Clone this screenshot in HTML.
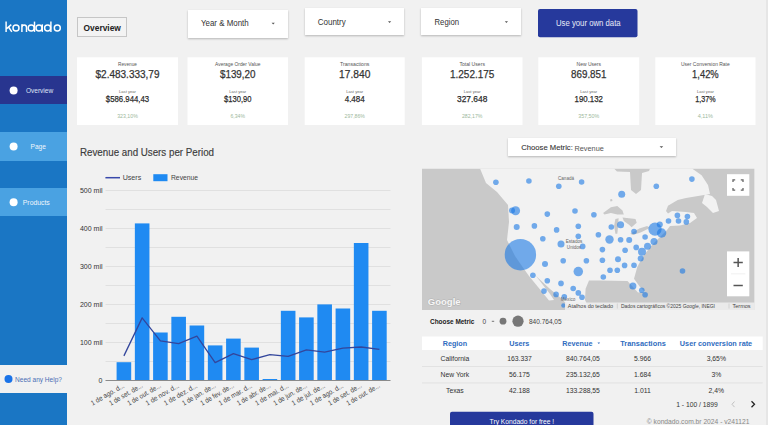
<!DOCTYPE html>
<html><head><meta charset="utf-8">
<style>
*{margin:0;padding:0;box-sizing:border-box}
html,body{width:768px;height:425px;overflow:hidden;background:#f1f1f1;font-family:"Liberation Sans",sans-serif;color:#333}
svg text{font-family:"Liberation Sans",sans-serif}
.a{position:absolute}
.dd{background:#fff;box-shadow:0 1px 2px rgba(0,0,0,.25)}
</style></head><body>
<div class="a" style="left:0;top:0;width:67px;height:425px;background:#1a76c4"></div>
<div class="a" style="left:0;top:76px;width:67px;height:28.3px;background:#28358f"></div>
<div class="a" style="left:0;top:132px;width:67px;height:29px;background:#4aa2e2"></div>
<div class="a" style="left:0;top:188px;width:67px;height:28.3px;background:#4aa2e2"></div>
<div class="a" style="left:0;top:364.5px;width:67px;height:28.5px;background:#f1f1f1"></div>
<div class="a" style="left:766px;top:0;width:2px;height:425px;background:#e6e6e6"></div>
<div class="a dd" style="left:188px;top:10px;width:100px;height:27.5px"></div>
<div class="a dd" style="left:305px;top:8px;width:99px;height:27.2px"></div>
<div class="a dd" style="left:421px;top:8px;width:100px;height:27.2px"></div>
<svg class="a" style="left:0;top:0" width="768" height="425" viewBox="0 0 768 425">
<g fill="none" stroke="#fff" stroke-width="1.45">
<path d="M6.1,21.6 V31.9 M6.6,28.6 L11.3,24.6 M8.6,27 L11.8,31.9"/>
<circle cx="16" cy="28.05" r="3"/>
<path d="M21.9,24.3 V31.9 M21.9,27.4 A2.3,2.5 0 0 1 26.5,27.4 V31.9"/>
<circle cx="31.2" cy="28.05" r="3"/><path d="M34.5,21.6 V31.9"/>
<circle cx="39" cy="28.05" r="3"/><path d="M42.3,24.3 V31.9"/>
<circle cx="47.6" cy="28.05" r="3"/><path d="M50.9,21.6 V31.9"/>
<circle cx="57.3" cy="28.05" r="3"/>
</g>
<circle cx="13.6" cy="90.5" r="4" fill="#fff"/>
<text x="25.9" y="93" font-size="6.9" fill="#dfe3f5" textLength="27.3" lengthAdjust="spacingAndGlyphs">Overview</text>
<circle cx="13.6" cy="146.5" r="4" fill="#fff"/>
<text x="30.6" y="149" font-size="6.9" fill="#f0f6fc" textLength="15.3" lengthAdjust="spacingAndGlyphs">Page</text>
<circle cx="13.6" cy="202.3" r="4" fill="#fff"/>
<text x="22.8" y="204.8" font-size="6.9" fill="#f0f6fc" textLength="27" lengthAdjust="spacingAndGlyphs">Products</text>
<circle cx="8.5" cy="379" r="4" fill="#1a73e8"/>
<text x="15" y="381.5" font-size="6.9" fill="#4a6fb5" textLength="47" lengthAdjust="spacingAndGlyphs">Need any Help?</text>
<rect x="77.5" y="17.5" width="49" height="19" fill="#f3f3f3" stroke="#c6c6c6" stroke-width="1"/>
<text x="83.6" y="31" font-size="9.7" font-weight="bold" fill="#222" textLength="37.2" lengthAdjust="spacingAndGlyphs">Overview</text>
<text x="201" y="25.8" font-size="8.8" fill="#333" textLength="47.7" lengthAdjust="spacingAndGlyphs">Year &amp; Month</text>
<path d="M271.6,22.8 h3.2 l-1.6,1.6z" fill="#555"/>
<text x="317.7" y="25" font-size="8.8" fill="#333" textLength="28.1" lengthAdjust="spacingAndGlyphs">Country</text>
<path d="M388,21.3 h3.2 l-1.6,1.6z" fill="#555"/>
<text x="434.5" y="25" font-size="8.8" fill="#333" textLength="24.5" lengthAdjust="spacingAndGlyphs">Region</text>
<path d="M504.8,21.3 h3.2 l-1.6,1.6z" fill="#555"/>
<rect x="538" y="9" width="99.5" height="28.2" rx="2" fill="#26399c"/>
<text x="556" y="25.9" font-size="9.2" fill="#e8ebf7" textLength="64.6" lengthAdjust="spacingAndGlyphs">Use your own data</text>
</svg>
<svg class="a" style="left:0;top:0" width="768" height="425" viewBox="0 0 768 425">
<rect x="77" y="57.3" width="101.0" height="67.7" fill="#fff"/>
<text x="127.50" y="66" text-anchor="middle" font-size="5.2" fill="#555" textLength="18.8" lengthAdjust="spacingAndGlyphs">Revenue</text>
<text x="127.50" y="77.8" text-anchor="middle" font-size="11.1" fill="#333" stroke="#333" stroke-width="0.25" textLength="64" lengthAdjust="spacingAndGlyphs">$2.483.333,79</text>
<text x="127.50" y="92.9" text-anchor="middle" font-size="4.1" fill="#666" textLength="16.9" lengthAdjust="spacingAndGlyphs">Last year</text>
<text x="127.50" y="102.3" text-anchor="middle" font-size="9.9" fill="#2a2a2a" stroke="#2a2a2a" stroke-width="0.25" textLength="43.3" lengthAdjust="spacingAndGlyphs">$586.944,43</text>
<text x="127.50" y="118" text-anchor="middle" font-size="5.4" fill="#9cb89c" textLength="20.7" lengthAdjust="spacingAndGlyphs">323,10%</text>
<rect x="187.5" y="57.3" width="100.5" height="67.7" fill="#fff"/>
<text x="237.75" y="66" text-anchor="middle" font-size="5.2" fill="#555" textLength="45.3" lengthAdjust="spacingAndGlyphs">Average Order Value</text>
<text x="237.75" y="77.8" text-anchor="middle" font-size="11.1" fill="#333" stroke="#333" stroke-width="0.25" textLength="35.6" lengthAdjust="spacingAndGlyphs">$139,20</text>
<text x="237.75" y="92.9" text-anchor="middle" font-size="4.1" fill="#666" textLength="16.9" lengthAdjust="spacingAndGlyphs">Last year</text>
<text x="237.75" y="102.3" text-anchor="middle" font-size="9.9" fill="#2a2a2a" stroke="#2a2a2a" stroke-width="0.25" textLength="27.5" lengthAdjust="spacingAndGlyphs">$130,90</text>
<text x="237.75" y="118" text-anchor="middle" font-size="5.4" fill="#9cb89c" textLength="14.5" lengthAdjust="spacingAndGlyphs">6,34%</text>
<rect x="304.7" y="57.3" width="100.0" height="67.7" fill="#fff"/>
<text x="354.70" y="66" text-anchor="middle" font-size="5.2" fill="#555" textLength="29.4" lengthAdjust="spacingAndGlyphs">Transactions</text>
<text x="354.70" y="77.8" text-anchor="middle" font-size="11.1" fill="#333" stroke="#333" stroke-width="0.25" textLength="31.3" lengthAdjust="spacingAndGlyphs">17.840</text>
<text x="354.70" y="92.9" text-anchor="middle" font-size="4.1" fill="#666" textLength="16.9" lengthAdjust="spacingAndGlyphs">Last year</text>
<text x="354.70" y="102.3" text-anchor="middle" font-size="9.9" fill="#2a2a2a" stroke="#2a2a2a" stroke-width="0.25" textLength="20" lengthAdjust="spacingAndGlyphs">4.484</text>
<text x="354.70" y="118" text-anchor="middle" font-size="5.4" fill="#9cb89c" textLength="20.3" lengthAdjust="spacingAndGlyphs">297,86%</text>
<rect x="421.9" y="57.3" width="100.6" height="67.7" fill="#fff"/>
<text x="472.20" y="66" text-anchor="middle" font-size="5.2" fill="#555" textLength="25.6" lengthAdjust="spacingAndGlyphs">Total Users</text>
<text x="472.20" y="77.8" text-anchor="middle" font-size="11.1" fill="#333" stroke="#333" stroke-width="0.25" textLength="44.4" lengthAdjust="spacingAndGlyphs">1.252.175</text>
<text x="472.20" y="92.9" text-anchor="middle" font-size="4.1" fill="#666" textLength="16.9" lengthAdjust="spacingAndGlyphs">Last year</text>
<text x="472.20" y="102.3" text-anchor="middle" font-size="9.9" fill="#2a2a2a" stroke="#2a2a2a" stroke-width="0.25" textLength="30.3" lengthAdjust="spacingAndGlyphs">327.648</text>
<text x="472.20" y="118" text-anchor="middle" font-size="5.4" fill="#9cb89c" textLength="20.6" lengthAdjust="spacingAndGlyphs">282,17%</text>
<rect x="538.3" y="57.3" width="100.9" height="67.7" fill="#fff"/>
<text x="588.75" y="66" text-anchor="middle" font-size="5.2" fill="#555" textLength="24.4" lengthAdjust="spacingAndGlyphs">New Users</text>
<text x="588.75" y="77.8" text-anchor="middle" font-size="11.1" fill="#333" stroke="#333" stroke-width="0.25" textLength="35.4" lengthAdjust="spacingAndGlyphs">869.851</text>
<text x="588.75" y="92.9" text-anchor="middle" font-size="4.1" fill="#666" textLength="16.9" lengthAdjust="spacingAndGlyphs">Last year</text>
<text x="588.75" y="102.3" text-anchor="middle" font-size="9.9" fill="#2a2a2a" stroke="#2a2a2a" stroke-width="0.25" textLength="28.4" lengthAdjust="spacingAndGlyphs">190.132</text>
<text x="588.75" y="118" text-anchor="middle" font-size="5.4" fill="#9cb89c" textLength="21.1" lengthAdjust="spacingAndGlyphs">357,50%</text>
<rect x="655.3" y="57.3" width="100.2" height="67.7" fill="#fff"/>
<text x="705.40" y="66" text-anchor="middle" font-size="5.2" fill="#555" textLength="48.7" lengthAdjust="spacingAndGlyphs">User Conversion Rate</text>
<text x="705.40" y="77.8" text-anchor="middle" font-size="11.1" fill="#333" stroke="#333" stroke-width="0.25" textLength="26.6" lengthAdjust="spacingAndGlyphs">1,42%</text>
<text x="705.40" y="92.9" text-anchor="middle" font-size="4.1" fill="#666" textLength="16.9" lengthAdjust="spacingAndGlyphs">Last year</text>
<text x="705.40" y="102.3" text-anchor="middle" font-size="9.9" fill="#2a2a2a" stroke="#2a2a2a" stroke-width="0.25" textLength="20.3" lengthAdjust="spacingAndGlyphs">1,37%</text>
<text x="705.40" y="118" text-anchor="middle" font-size="5.4" fill="#9cb89c" textLength="15.3" lengthAdjust="spacingAndGlyphs">4,11%</text>
</svg>
<svg class="a" style="left:0;top:0" width="768" height="425" viewBox="0 0 768 425">
<line x1="105.5" x2="390.5" y1="361.5" y2="361.5" stroke="#e0e0e0" stroke-width="1"/>
<line x1="105.5" x2="390.5" y1="342.5" y2="342.5" stroke="#e0e0e0" stroke-width="1"/>
<line x1="105.5" x2="390.5" y1="323.5" y2="323.5" stroke="#e0e0e0" stroke-width="1"/>
<line x1="105.5" x2="390.5" y1="304.5" y2="304.5" stroke="#e0e0e0" stroke-width="1"/>
<line x1="105.5" x2="390.5" y1="285.5" y2="285.5" stroke="#e0e0e0" stroke-width="1"/>
<line x1="105.5" x2="390.5" y1="266.5" y2="266.5" stroke="#e0e0e0" stroke-width="1"/>
<line x1="105.5" x2="390.5" y1="247.5" y2="247.5" stroke="#e0e0e0" stroke-width="1"/>
<line x1="105.5" x2="390.5" y1="228.5" y2="228.5" stroke="#e0e0e0" stroke-width="1"/>
<line x1="105.5" x2="390.5" y1="209.5" y2="209.5" stroke="#e0e0e0" stroke-width="1"/>
<line x1="105.5" x2="390.5" y1="190.5" y2="190.5" stroke="#e0e0e0" stroke-width="1"/>
<text x="102.5" y="382.9" text-anchor="end" font-size="7" fill="#333">0</text>
<text x="102.5" y="344.9" text-anchor="end" font-size="7" fill="#333">100 mil</text>
<text x="102.5" y="306.9" text-anchor="end" font-size="7" fill="#333">200 mil</text>
<text x="102.5" y="268.9" text-anchor="end" font-size="7" fill="#333">300 mil</text>
<text x="102.5" y="230.9" text-anchor="end" font-size="7" fill="#333">400 mil</text>
<text x="102.5" y="192.9" text-anchor="end" font-size="7" fill="#333">500 mil</text>
<rect x="116.60" y="362.2" width="14.6" height="18.30" fill="#1f8af2"/>
<rect x="134.85" y="223.4" width="14.6" height="157.10" fill="#1f8af2"/>
<rect x="153.10" y="332.5" width="14.6" height="48.00" fill="#1f8af2"/>
<rect x="171.35" y="316.8" width="14.6" height="63.70" fill="#1f8af2"/>
<rect x="189.60" y="325.5" width="14.6" height="55.00" fill="#1f8af2"/>
<rect x="207.85" y="345.4" width="14.6" height="35.10" fill="#1f8af2"/>
<rect x="226.10" y="338.6" width="14.6" height="41.90" fill="#1f8af2"/>
<rect x="244.35" y="347.6" width="14.6" height="32.90" fill="#1f8af2"/>
<rect x="262.60" y="379.0" width="14.6" height="1.50" fill="#1f8af2"/>
<rect x="280.85" y="310.8" width="14.6" height="69.70" fill="#1f8af2"/>
<rect x="299.10" y="317.4" width="14.6" height="63.10" fill="#1f8af2"/>
<rect x="317.35" y="304.4" width="14.6" height="76.10" fill="#1f8af2"/>
<rect x="335.60" y="308.5" width="14.6" height="72.00" fill="#1f8af2"/>
<rect x="353.85" y="243.0" width="14.6" height="137.50" fill="#1f8af2"/>
<rect x="372.10" y="310.8" width="14.6" height="69.70" fill="#1f8af2"/>
<line x1="105.5" x2="390.5" y1="380.5" y2="380.5" stroke="#8a8a8a" stroke-width="1.2"/>
<polyline points="123.90,355.9 142.15,317.9 160.40,340.9 178.65,343.6 196.90,336.2 215.15,362.6 233.40,353.7 251.65,359.7 269.90,354.6 288.15,356.4 306.40,349.9 324.65,352.2 342.90,348.2 361.15,347.0 379.40,349.3" fill="none" stroke="#33469c" stroke-width="1.3" stroke-linejoin="round"/>
<text transform="translate(124.90,387.0) rotate(-30)" text-anchor="end" font-size="7" fill="#444" textLength="37.5" lengthAdjust="spacingAndGlyphs">1 de ago. d...</text>
<text transform="translate(143.15,387.0) rotate(-30)" text-anchor="end" font-size="7" fill="#444" textLength="37.5" lengthAdjust="spacingAndGlyphs">1 de set. de...</text>
<text transform="translate(161.40,387.0) rotate(-30)" text-anchor="end" font-size="7" fill="#444" textLength="37.5" lengthAdjust="spacingAndGlyphs">1 de out. de...</text>
<text transform="translate(179.65,387.0) rotate(-30)" text-anchor="end" font-size="7" fill="#444" textLength="37.5" lengthAdjust="spacingAndGlyphs">1 de nov. d...</text>
<text transform="translate(197.90,387.0) rotate(-30)" text-anchor="end" font-size="7" fill="#444" textLength="37.5" lengthAdjust="spacingAndGlyphs">1 de dez. d...</text>
<text transform="translate(216.15,387.0) rotate(-30)" text-anchor="end" font-size="7" fill="#444" textLength="37.5" lengthAdjust="spacingAndGlyphs">1 de jan. de...</text>
<text transform="translate(234.40,387.0) rotate(-30)" text-anchor="end" font-size="7" fill="#444" textLength="37.5" lengthAdjust="spacingAndGlyphs">1 de fev. de...</text>
<text transform="translate(252.65,387.0) rotate(-30)" text-anchor="end" font-size="7" fill="#444" textLength="37.5" lengthAdjust="spacingAndGlyphs">1 de mar. d...</text>
<text transform="translate(270.90,387.0) rotate(-30)" text-anchor="end" font-size="7" fill="#444" textLength="37.5" lengthAdjust="spacingAndGlyphs">1 de abr. de...</text>
<text transform="translate(289.15,387.0) rotate(-30)" text-anchor="end" font-size="7" fill="#444" textLength="37.5" lengthAdjust="spacingAndGlyphs">1 de mai. d...</text>
<text transform="translate(307.40,387.0) rotate(-30)" text-anchor="end" font-size="7" fill="#444" textLength="37.5" lengthAdjust="spacingAndGlyphs">1 de jun. de...</text>
<text transform="translate(325.65,387.0) rotate(-30)" text-anchor="end" font-size="7" fill="#444" textLength="37.5" lengthAdjust="spacingAndGlyphs">1 de jul. de...</text>
<text transform="translate(343.90,387.0) rotate(-30)" text-anchor="end" font-size="7" fill="#444" textLength="37.5" lengthAdjust="spacingAndGlyphs">1 de ago. d...</text>
<text transform="translate(362.15,387.0) rotate(-30)" text-anchor="end" font-size="7" fill="#444" textLength="37.5" lengthAdjust="spacingAndGlyphs">1 de set. de...</text>
<text transform="translate(380.40,387.0) rotate(-30)" text-anchor="end" font-size="7" fill="#444" textLength="37.5" lengthAdjust="spacingAndGlyphs">1 de out. de...</text>
</svg>

<svg class="a" style="left:0;top:0" width="768" height="425" viewBox="0 0 768 425">
<text x="80" y="155.8" font-size="10" fill="#3c3c3c" stroke="#3c3c3c" stroke-width="0.15" textLength="134" lengthAdjust="spacingAndGlyphs">Revenue and Users per Period</text>
<line x1="105.4" x2="120" y1="177.7" y2="177.7" stroke="#3949ab" stroke-width="1.5"/>
<text x="122.7" y="180.4" font-size="7.1" fill="#444">Users</text>
<rect x="153.3" y="174.2" width="14.2" height="7" fill="#1f8af2"/>
<text x="171" y="180.4" font-size="6.75" fill="#444">Revenue</text>
</svg>
<div class="a dd" style="left:508px;top:138px;width:168px;height:18px"></div>
<svg class="a" style="left:0;top:0" width="768" height="425" viewBox="0 0 768 425">
<text x="521.3" y="150.3" font-size="7.8" fill="#333" stroke="#333" stroke-width="0.1" textLength="51.5" lengthAdjust="spacingAndGlyphs">Choose Metric:</text>
<text x="574.5" y="150.5" font-size="6.4" fill="#555" textLength="29.3" lengthAdjust="spacingAndGlyphs">Revenue</text>
<path d="M659.6,146.2 h3.6 l-1.8,1.8z" fill="#555"/>
</svg>
<svg class="a" style="left:0;top:0" width="768" height="425" viewBox="0 0 768 425">
<defs><clipPath id="mc"><rect x="422" y="168.5" width="332.6" height="141.5"/></clipPath></defs>
<g clip-path="url(#mc)">
<rect x="422.0" y="168.5" width="332.6" height="141.5" fill="#c9c9c9"/>
<polygon points="480,168.5 614,168.5 617,171.5 630,172 631,190 636,194 641,190 642,173 649,171 650,168.5 692,168.5 701.6,175.2 708,185 710,194 698,196 686,198 677.7,200 668,205.7 666,211 668,213.5 672,211 686,212 694,213 697,218 690,223 680,225.5 670,226 667,230 660,237 652,245 644,255 640,262 637.3,267 634,278.7 640,287 645,292 638,292.5 627.5,281 600,280.5 589,280.5 585.6,288.7 585,300 590,310 572,310 562,299 550,289 536,276 550,294 554,300 549,300.5 538,287 529,276 524,269 515,256 507,240 509,222 508,205 497,192 486,183" fill="#f2f2f2"/>
<polygon points="705,194 712,196 716,200 719,211 713,213 707,207 702,203" fill="#f2f2f2"/>
<polygon points="603.1,213.1 610.9,207.3 617.3,206 622.5,210.5 623.8,214.4 617.3,214.4 610.9,213.1 604.4,214.4" fill="#c9c9c9"/>
<polygon points="615.4,218.9 618.6,218.3 618,227.3 617.3,233.8 615.4,233.8 614.1,226" fill="#c9c9c9"/>
<polygon points="622.5,217.6 629,218.3 635.5,218.9 636.7,222.8 631.6,227.3 629,224.8 623.8,220.9" fill="#c9c9c9"/>
<polygon points="630.3,233.8 639.3,228.6 647.1,226 649.7,228 640.6,232.5 632.9,235.1" fill="#c9c9c9"/>
<polygon points="610,199.5 612,199 612.5,201 610.5,201.5" fill="#c9c9c9"/>
<circle cx="495.9" cy="182.3" r="2.8" fill="rgba(25,120,228,0.6)"/>
<circle cx="528.9" cy="181" r="2.8" fill="rgba(25,120,228,0.6)"/>
<circle cx="558.8" cy="186.2" r="2.8" fill="rgba(25,120,228,0.6)"/>
<circle cx="581.6" cy="182" r="2.8" fill="rgba(25,120,228,0.6)"/>
<circle cx="621.7" cy="194.3" r="3.5" fill="rgba(25,120,228,0.6)"/>
<circle cx="656.3" cy="186.3" r="2.8" fill="rgba(25,120,228,0.6)"/>
<circle cx="691.9" cy="179.1" r="2.8" fill="rgba(25,120,228,0.6)"/>
<circle cx="515.6" cy="210.8" r="4.5" fill="rgba(25,120,228,0.6)"/>
<circle cx="512" cy="210.5" r="3" fill="rgba(25,120,228,0.6)"/>
<circle cx="547.3" cy="214.1" r="2.8" fill="rgba(25,120,228,0.6)"/>
<circle cx="575" cy="211" r="2.8" fill="rgba(25,120,228,0.6)"/>
<circle cx="593.9" cy="214.8" r="2.8" fill="rgba(25,120,228,0.6)"/>
<circle cx="516.7" cy="227" r="3" fill="rgba(25,120,228,0.6)"/>
<circle cx="534.4" cy="225.9" r="2.8" fill="rgba(25,120,228,0.6)"/>
<circle cx="556.6" cy="229.9" r="2.8" fill="rgba(25,120,228,0.6)"/>
<circle cx="578.3" cy="226.3" r="2.8" fill="rgba(25,120,228,0.6)"/>
<circle cx="578.3" cy="236.3" r="2.8" fill="rgba(25,120,228,0.6)"/>
<circle cx="542.8" cy="238.8" r="2.8" fill="rgba(25,120,228,0.6)"/>
<circle cx="561" cy="244" r="3.5" fill="rgba(25,120,228,0.6)"/>
<circle cx="582.7" cy="246.4" r="2.8" fill="rgba(25,120,228,0.6)"/>
<circle cx="520.4" cy="254.7" r="15.7" fill="rgba(25,120,228,0.6)"/>
<circle cx="545" cy="264.1" r="3" fill="rgba(25,120,228,0.6)"/>
<circle cx="563.2" cy="260.8" r="2.8" fill="rgba(25,120,228,0.6)"/>
<circle cx="586.4" cy="260.8" r="2.8" fill="rgba(25,120,228,0.6)"/>
<circle cx="578.3" cy="271.6" r="4.75" fill="rgba(25,120,228,0.6)"/>
<circle cx="532.9" cy="275.2" r="2.8" fill="rgba(25,120,228,0.6)"/>
<circle cx="547.3" cy="280.7" r="2.8" fill="rgba(25,120,228,0.6)"/>
<circle cx="561" cy="283.4" r="2.8" fill="rgba(25,120,228,0.6)"/>
<circle cx="573.2" cy="288.5" r="2.8" fill="rgba(25,120,228,0.6)"/>
<circle cx="578.3" cy="292.9" r="2.8" fill="rgba(25,120,228,0.6)"/>
<circle cx="582" cy="297.3" r="2.8" fill="rgba(25,120,228,0.6)"/>
<circle cx="544" cy="291.1" r="2.8" fill="rgba(25,120,228,0.6)"/>
<circle cx="556.1" cy="294.4" r="2.8" fill="rgba(25,120,228,0.6)"/>
<circle cx="564.3" cy="296.7" r="2.8" fill="rgba(25,120,228,0.6)"/>
<circle cx="563.4" cy="305.5" r="2.2" fill="rgba(25,120,228,0.6)"/>
<circle cx="611.3" cy="227" r="2.8" fill="rgba(25,120,228,0.6)"/>
<circle cx="620.6" cy="224.8" r="3.5" fill="rgba(25,120,228,0.6)"/>
<circle cx="598.4" cy="234.8" r="2.8" fill="rgba(25,120,228,0.6)"/>
<circle cx="634" cy="231.5" r="2.8" fill="rgba(25,120,228,0.6)"/>
<circle cx="668.5" cy="221" r="2.8" fill="rgba(25,120,228,0.6)"/>
<circle cx="677.4" cy="215.4" r="2.8" fill="rgba(25,120,228,0.6)"/>
<circle cx="687.4" cy="216.5" r="2.8" fill="rgba(25,120,228,0.6)"/>
<circle cx="678.5" cy="221" r="2.8" fill="rgba(25,120,228,0.6)"/>
<circle cx="686.3" cy="221.9" r="2.8" fill="rgba(25,120,228,0.6)"/>
<circle cx="655" cy="229.2" r="6.6" fill="rgba(25,120,228,0.6)"/>
<circle cx="661.6" cy="233" r="4.7" fill="rgba(25,120,228,0.6)"/>
<circle cx="659.8" cy="224.5" r="3" fill="rgba(25,120,228,0.6)"/>
<circle cx="654" cy="241.5" r="3.5" fill="rgba(25,120,228,0.6)"/>
<circle cx="647.5" cy="246.2" r="3.5" fill="rgba(25,120,228,0.6)"/>
<circle cx="609.5" cy="239.5" r="4.2" fill="rgba(25,120,228,0.6)"/>
<circle cx="620.6" cy="239.8" r="2.8" fill="rgba(25,120,228,0.6)"/>
<circle cx="629.2" cy="240" r="3" fill="rgba(25,120,228,0.6)"/>
<circle cx="645.1" cy="237" r="2.8" fill="rgba(25,120,228,0.6)"/>
<circle cx="602.4" cy="249.6" r="2.8" fill="rgba(25,120,228,0.6)"/>
<circle cx="625.1" cy="250.2" r="2.8" fill="rgba(25,120,228,0.6)"/>
<circle cx="636.2" cy="247.4" r="2.8" fill="rgba(25,120,228,0.6)"/>
<circle cx="642" cy="251.8" r="4" fill="rgba(25,120,228,0.6)"/>
<circle cx="640.7" cy="258.5" r="3" fill="rgba(25,120,228,0.6)"/>
<circle cx="602.4" cy="260.3" r="2.8" fill="rgba(25,120,228,0.6)"/>
<circle cx="618" cy="259.2" r="3" fill="rgba(25,120,228,0.6)"/>
<circle cx="624.6" cy="265.4" r="2.8" fill="rgba(25,120,228,0.6)"/>
<circle cx="634" cy="265.2" r="2.8" fill="rgba(25,120,228,0.6)"/>
<circle cx="610" cy="270.3" r="2.8" fill="rgba(25,120,228,0.6)"/>
<circle cx="617.3" cy="270.3" r="2.8" fill="rgba(25,120,228,0.6)"/>
<circle cx="603.3" cy="277" r="2.8" fill="rgba(25,120,228,0.6)"/>
<circle cx="632.9" cy="285.9" r="3.5" fill="rgba(25,120,228,0.6)"/>
<circle cx="641.8" cy="290.3" r="2.8" fill="rgba(25,120,228,0.6)"/>
<circle cx="645.1" cy="294.8" r="2.8" fill="rgba(25,120,228,0.6)"/>
<circle cx="682.5" cy="271" r="2.8" fill="rgba(25,120,228,0.6)"/>
<text x="566" y="180" text-anchor="middle" font-size="4.6" fill="#666">Canadá</text>
<text x="574" y="243" text-anchor="middle" font-size="4.6" fill="#666">Estados</text>
<text x="574" y="248.5" text-anchor="middle" font-size="4.6" fill="#666">Unidos</text>
<text x="568" y="300.5" text-anchor="middle" font-size="4.6" fill="#666">México</text>
<text x="427.8" y="305" font-size="9.6" font-weight="bold" fill="#f6f6f6" stroke="#b0b0b0" stroke-width="0.9" paint-order="stroke" textLength="32.8" lengthAdjust="spacingAndGlyphs">Google</text>
<rect x="565" y="302.5" width="190" height="7.5" fill="rgba(240,240,240,0.85)"/>
<text x="567.8" y="308" font-size="5.5" fill="#444">Atalhos do teclado</text>
<line x1="617.3" x2="617.3" y1="303.5" y2="308.5" stroke="#bbb" stroke-width="0.5"/>
<text x="621" y="308" font-size="5.5" fill="#444" textLength="94" lengthAdjust="spacingAndGlyphs">Dados cartográficos ©2025 Google, INEGI</text>
<line x1="729" x2="729" y1="303.5" y2="308.5" stroke="#bbb" stroke-width="0.5"/>
<text x="732.5" y="308" font-size="5.5" fill="#444">Termos</text>
</g>
<rect x="727" y="174.2" width="22.3" height="21.6" fill="#fff"/>
<path d="M733,182 V179.8 H735.2 M740.8,179.8 H743 V182 M743,188 V190.2 H740.8 M735.2,190.2 H733 V188" stroke="#666" stroke-width="1.3" fill="none"/>
<rect x="727" y="251.4" width="22.3" height="44.9" fill="#fff"/>
<line x1="731" x2="745.3" y1="273.85" y2="273.85" stroke="#e6e6e6" stroke-width="0.6"/>
<path d="M733.5,262.5 H742.8 M738.15,257.9 V267.1" stroke="#555" stroke-width="1.5"/>
<path d="M733.5,285.5 H742.8" stroke="#555" stroke-width="1.5"/>
</svg>

<svg class="a" style="left:0;top:0" width="768" height="425" viewBox="0 0 768 425">
<text x="430" y="324.2" font-size="6.45" font-weight="bold" fill="#222" textLength="44.4" lengthAdjust="spacingAndGlyphs">Choose Metric</text>
<text x="482.5" y="324.2" font-size="6.5" fill="#444">0</text>
<line x1="491.8" x2="494.2" y1="321.3" y2="321.3" stroke="#555" stroke-width="0.8"/>
<circle cx="503" cy="321.2" r="3.4" fill="#777"/>
<circle cx="518" cy="321.2" r="5.6" fill="#777"/>
<text x="529" y="324.2" font-size="6.5" fill="#444" textLength="32.6" lengthAdjust="spacingAndGlyphs">840.764,05</text>
<rect x="422" y="336.5" width="340.7" height="13.5" fill="#fff"/>
<line x1="422" x2="762.7" y1="366.5" y2="366.5" stroke="#dedede" stroke-width="0.8"/>
<line x1="422" x2="762.7" y1="382.9" y2="382.9" stroke="#dedede" stroke-width="0.8"/>
<g font-size="7.3" font-weight="bold" fill="#2f6cc0" text-anchor="middle">
<text x="454.9" y="345.8" textLength="24.3" lengthAdjust="spacingAndGlyphs">Region</text>
<text x="519.3" y="345.8" textLength="20.2" lengthAdjust="spacingAndGlyphs">Users</text>
<text x="577.4" y="345.8" textLength="30.1" lengthAdjust="spacingAndGlyphs">Revenue</text>
<text x="643" y="345.8" textLength="45.6" lengthAdjust="spacingAndGlyphs">Transactions</text>
<text x="716" y="345.8" textLength="72.3" lengthAdjust="spacingAndGlyphs">User conversion rate</text>
</g>
<path d="M597.5,342.6 h2.6 l-1.3,1.4z" fill="#2f6cc0"/>
<g font-size="6.8" fill="#333" text-anchor="middle">
<text x="454.9" y="360.7">California</text><text x="519.5" y="360.7">163.337</text><text x="582.9" y="360.7">840.764,05</text><text x="642.6" y="360.7">5.966</text><text x="716.3" y="360.7">3,65%</text>
<text x="454.9" y="376.8">New York</text><text x="519.5" y="376.8">56.175</text><text x="582.9" y="376.8">235.132,65</text><text x="642.6" y="376.8">1.684</text><text x="716.3" y="376.8">3%</text>
<text x="454.9" y="393">Texas</text><text x="519.5" y="393">42.188</text><text x="582.9" y="393">133.288,55</text><text x="642.6" y="393">1.011</text><text x="716.3" y="393">2,4%</text>
</g>
<text x="676.2" y="406.6" font-size="6.75" fill="#333" textLength="41.7" lengthAdjust="spacingAndGlyphs">1 - 100 / 1899</text>
<path d="M734.5,401.5 L732,404.3 L734.5,407.1" stroke="#bbb" stroke-width="0.9" fill="none"/>
<path d="M751.5,401.3 L754.5,404.3 L751.5,407.3" stroke="#222" stroke-width="1.3" fill="none"/>
<rect x="450" y="411.7" width="143.5" height="20" rx="2" fill="#26399c"/>
<text x="489.6" y="423.5" font-size="6.67" fill="#fff" textLength="64.6" lengthAdjust="spacingAndGlyphs">Try Kondado for free !</text>
<text x="646.8" y="424" font-size="6.8" fill="#888" textLength="102.6" lengthAdjust="spacingAndGlyphs">© kondado.com.br 2024 - v241121</text>
</svg>

</body></html>
